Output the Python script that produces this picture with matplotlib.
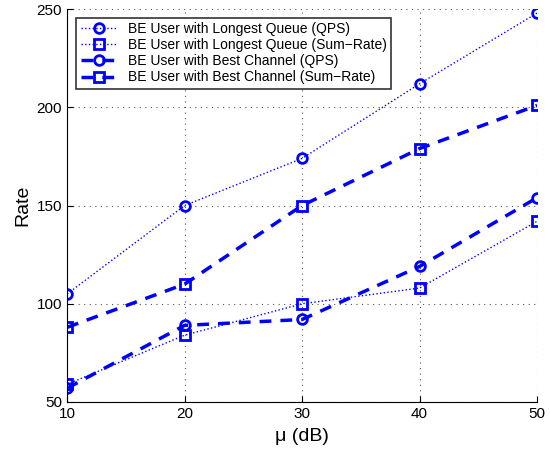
import matplotlib
matplotlib.use("Agg")
import matplotlib.pyplot as plt

plt.rcParams['font.family'] = ['Liberation Sans', 'DejaVu Sans']

mu_db = [10, 20, 30, 40, 50]
lq_qps = [105, 150, 174, 212, 248]
lq_sumrate = [59, 84, 100, 108, 142]
bc_qps = [57, 89, 92, 119, 154]
bc_sumrate = [88, 110, 150, 179, 201]

fig = plt.figure(figsize=(5.5, 4.49), dpi=100)
ax = fig.add_axes([0.122, 0.1047, 0.8545, 0.875])

ax.plot(mu_db, lq_qps, linestyle=':', color='blue', linewidth=1.0, marker='o',
        markersize=7, markerfacecolor='none', markeredgewidth=2,
        label='BE User with Longest Queue (QPS)')
ax.plot(mu_db, lq_sumrate, linestyle=':', color='blue', linewidth=1.0, marker='s',
        markersize=6.5, markerfacecolor='none', markeredgewidth=2,
        label='BE User with Longest Queue (Sum\u2212Rate)')
ax.plot(mu_db, bc_qps, linestyle='--', color='blue', linewidth=2.5, marker='o',
        markersize=7, markerfacecolor='none', markeredgewidth=2,
        dashes=(3.4, 2.6), label='BE User with Best Channel (QPS)')
ax.plot(mu_db, bc_sumrate, linestyle='--', color='blue', linewidth=2.5, marker='s',
        markersize=6.5, markerfacecolor='none', markeredgewidth=2,
        dashes=(3.4, 2.6), label='BE User with Best Channel (Sum\u2212Rate)')

ax.set_xlim(10, 50)
ax.set_ylim(50, 250)
ax.set_xticks(mu_db)
ax.set_yticks([50, 100, 150, 200, 250])
ax.grid(True, linestyle=(0, (1, 4)), color='#555555', linewidth=0.8)
ax.spines['top'].set_visible(False)
ax.spines['right'].set_visible(False)
ax.tick_params(direction='in', labelsize=11, length=4)
ax.set_xlabel('\u03bc (dB)', fontsize=14, labelpad=5)
ax.set_ylabel('Rate', fontsize=14, labelpad=4)

leg = ax.legend(loc='upper left', fontsize=10, frameon=True, fancybox=False,
                edgecolor='black', borderpad=0.3, labelspacing=0.15,
                handlelength=2.6, bbox_to_anchor=(0.005, 0.995))
leg.get_frame().set_linewidth(1.2)

fig.savefig('out.png', dpi=100)
